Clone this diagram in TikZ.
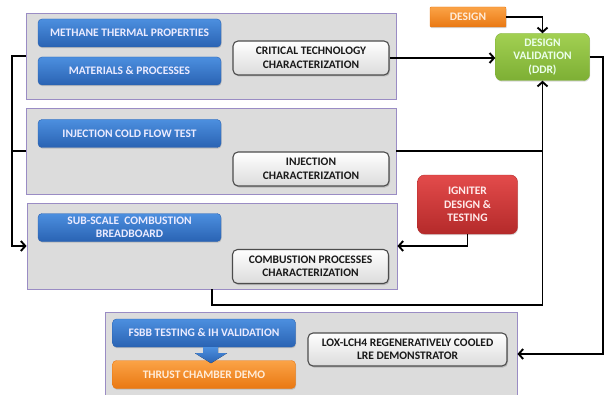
\documentclass[tikz,border=0pt]{standalone}
\usepackage{fontspec}
\setmainfont{Carlito}
\usetikzlibrary{arrows.meta,shadows}
\definecolor{panelgray}{HTML}{DCDCDC}
\definecolor{panelline}{HTML}{9A8CC4}
\definecolor{bluetop}{HTML}{4C8FDF}
\definecolor{bluebot}{HTML}{2A63B3}
\definecolor{orangetop}{HTML}{FBA347}
\definecolor{orangebot}{HTML}{E97812}
\definecolor{greentop}{HTML}{A2D052}
\definecolor{greenbot}{HTML}{7DAF34}
\definecolor{redtop}{HTML}{E34B4B}
\definecolor{redbot}{HTML}{B42A2A}
\tikzset{
	panel/.style={draw=panelline, fill=panelgray, line width=0.8pt, inner sep=0pt},
	boxtext/.style={font=\bfseries\fontsize{11.5}{13.5}\selectfont, align=center, inner sep=0pt, rounded corners=4pt},
	bluebox/.style={boxtext, top color=bluetop, bottom color=bluebot, draw=bluebot, text=white!92!blue,
		minimum width=183pt, minimum height=28pt, drop shadow={shadow xshift=0.6pt, shadow yshift=-1.2pt, opacity=0.35}},
	orangebox/.style={bluebox, top color=orangetop, bottom color=orangebot, draw=orangebot, text=orange!15},
	whitebox/.style={boxtext, top color=white, bottom color=black!14, draw=black!70, line width=1.1pt, text=black!90,
		minimum width=156pt, minimum height=34pt, rounded corners=5pt, drop shadow={shadow xshift=1pt, shadow yshift=-1.5pt, opacity=0.4}},
	greenbox/.style={boxtext, top color=greentop, bottom color=greenbot, draw=greenbot, text=green!8!white,
		minimum width=94pt, minimum height=47pt, rounded corners=6pt, drop shadow={shadow xshift=0.6pt, shadow yshift=-1.2pt, opacity=0.3}},
	redbox/.style={boxtext, top color=redtop, bottom color=redbot, draw=redbot, text=red!8!white,
		minimum width=100pt, minimum height=59pt, rounded corners=7pt, drop shadow={shadow xshift=0.6pt, shadow yshift=-1.2pt, opacity=0.3}},
	conn/.style={line width=1.9pt, black},
}

\begin{document}
\begin{tikzpicture}[x=1pt, y=1pt, >={Straight Barb[length=4.5pt, width=10pt]}]
	\useasboundingbox (0,0) rectangle (604,394);
	\clip (0,0) rectangle (604,394);
	\draw (211,338) node[panel, minimum width=370pt, minimum height=86pt] (p1) {};
	\draw (211,243) node[panel, minimum width=370pt, minimum height=86pt] (p2) {};
	\draw (212,148) node[panel, minimum width=370pt, minimum height=86pt] (p3) {};
	\draw (311,33) node[panel, minimum width=412pt, minimum height=98pt] (p4) {};
	\draw (129.5,361) node[bluebox] (mtp) {METHANE THERMAL PROPERTIES};
	\draw (129.5,323) node[bluebox] (map) {MATERIALS \& PROCESSES};
	\draw (129.5,260.5) node[bluebox] (icft) {INJECTION COLD FLOW TEST};
	\draw (129.5,166.5) node[bluebox] (ssb) {SUB-SCALE\ \ COMBUSTION\\BREADBOARD};
	\draw (204,61) node[bluebox] (fsbb) {FSBB TESTING \& IH VALIDATION};
	\draw (204,19.5) node[orangebox] (tcd) {THRUST CHAMBER DEMO};
	\draw (311,336) node[whitebox] (ctc) {CRITICAL TECHNOLOGY\\CHARACTERIZATION};
	\draw (311,225) node[whitebox] (ic) {INJECTION\\CHARACTERIZATION};
	\draw (310.5,127.5) node[whitebox] (cpc) {COMBUSTION PROCESSES\\CHARACTERIZATION};
	\draw (407.5,44.5) node[whitebox, minimum width=199pt, minimum height=33pt] (lox) {LOX-LCH4 REGENERATIVELY COOLED\\LRE DEMONSTRATOR};
	\draw (468,377) node[orangebox, minimum width=76pt, minimum height=20pt, rounded corners=1pt] (des) {DESIGN};
	\draw (542.5,337) node[greenbox] (dv) {DESIGN\\VALIDATION\\(DDR)};
	\draw (467.5,189.5) node[redbox] (ig) {IGNITER\\DESIGN \&\\TESTING};
	\coordinate (rt) at (603,40);
	\fill[top color=bluetop, bottom color=bluebot] ([xshift=-1pt]fsbb.south) -- ++(15,0) -- ++(0,-6) -- ++(9,0)
		-- ++(-16,-10) -- ++(-16,10) -- ++(8,0) -- cycle;
	\draw[conn,->] (p1.west) -- ++(-14,0) |- (p3.west);
	\draw[conn] (p2.west) -- ++(-14,0);
	\draw[conn,->] (ctc.east) -- (ctc.east -| dv.west);
	\draw[conn,->] (des.east) -| (dv.north);
	\draw[conn,->] (p3.south) -- ++(0,-16) -| (dv.south);
	\draw[conn] (p2.east |- ic.north) -- (ic.north -| dv.south);
	\draw[conn,->] (dv.east) -| (rt) -- (rt -| p4.east);
	\draw[conn,->] (ig.south) |- (p3.east);
\end{tikzpicture}
\end{document}
